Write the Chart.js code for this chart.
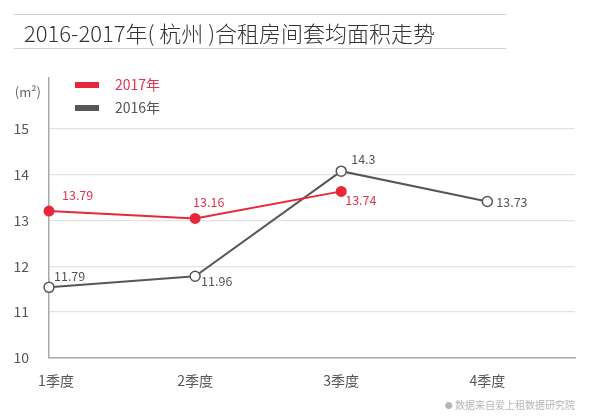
<!DOCTYPE html>
<html>
<head>
<meta charset="utf-8">
<script src="https://cdn.jsdelivr.net/npm/chart.js@4/dist/chart.umd.min.js"></script>
<style>
  html, body { margin: 0; padding: 0; background: #fff; }
  #wrap { position: relative; width: 600px; height: 416px; overflow: hidden; }
  #head {
    position: absolute; left: 14px; top: 14px; width: 492px; height: 35px;
    border-top: 1px solid #d0d0d0; border-bottom: 1px solid #d0d0d0;
    font-family: "Noto Sans CJK SC", "Noto Sans", sans-serif; font-size: 22px;
    font-weight: 300; color: #333; line-height: 35px; padding-left: 10px;
    box-sizing: border-box; white-space: pre;
  }
  #foot {
    position: absolute; right: 25px; top: 397px;
    font-family: "Noto Sans CJK SC", sans-serif; font-size: 10px; color: #b5b5b5;
  }
  canvas { position: absolute; left: 0; top: 0; }
</style>
</head>
<body>
<div id="wrap">
  <canvas id="areaChart" width="600" height="416"></canvas>
  <div id="head">2016-2017年( 杭州 )合租房间套均面积走势</div>
  <div id="foot"><span style="font-size:8px">●</span> 数据来自爱上租数据研究院</div>
</div>
<script>
const quarters = ['1季度', '2季度', '3季度', '4季度'];
const yTicks = [10, 11, 12, 13, 14, 15];
const unitLabel = '(m²)';

// where the points sit on the original chart
const area2017 = [13.20, 13.04, 13.63];
const area2016 = [11.54, 11.78, 14.07, 13.41];
// numbers printed next to the points
const text2017 = ['13.79', '13.16', '13.74'];
const text2016 = ['11.79', '11.96', '14.3', '13.73'];

const red = '#e8283a';
const grey = '#575757';

const toXY = (vals) => vals.map((v, i) => ({ x: i, y: v }));

// label offsets from each point, per dataset
const labelOffsets = [
  [[13, -16], [-2, -16], [4, 9]],
  [[5, -11], [6, 5], [10, -12], [9, 1]]
];
const labelTexts = [text2017, text2016];

const pointLabels = {
  id: 'pointLabels',
  afterDatasetsDraw(chart) {
    const ctx = chart.ctx;
    ctx.save();
    ctx.font = '12.5px "Noto Sans CJK SC", sans-serif';
    ctx.textBaseline = 'middle';
    ctx.textAlign = 'left';
    chart.data.datasets.forEach((ds, di) => {
      const meta = chart.getDatasetMeta(di);
      meta.data.forEach((pt, i) => {
        const off = labelOffsets[di][i];
        ctx.fillStyle = di === 0 ? '#e4334b' : '#555';
        ctx.fillText(labelTexts[di][i], pt.x + off[0], pt.y + off[1]);
      });
    });
    ctx.restore();
  }
};

const sideLegend = {
  id: 'sideLegend',
  afterDraw(chart) {
    const ctx = chart.ctx;
    ctx.save();
    ctx.font = '14px "Noto Sans CJK SC", sans-serif';
    ctx.textBaseline = 'middle';
    ctx.textAlign = 'left';
    chart.data.datasets.forEach((ds, i) => {
      const y = 85 + i * 23;
      ctx.fillStyle = ds.borderColor;
      ctx.fillRect(75, y - 3, 24, 6);
      ctx.fillStyle = i === 0 ? '#e4334b' : '#555';
      ctx.fillText(ds.label, 115, y);
    });
    // unit next to the y axis
    ctx.font = '13px "Noto Sans CJK SC", sans-serif';
    ctx.textAlign = 'right';
    ctx.fillStyle = '#666';
    ctx.fillText(unitLabel, chart.chartArea.left - 8, 92);
    ctx.restore();
  }
};

const ctx = document.getElementById('areaChart');
new Chart(ctx, {
  type: 'line',
  data: {
    datasets: [{
      label: '2017年',
      data: toXY(area2017),
      borderColor: red,
      backgroundColor: red,
      borderWidth: 2,
      pointRadius: 4.5,
      pointBackgroundColor: red,
      pointBorderColor: red,
      clip: false,
      tension: 0
    }, {
      label: '2016年',
      data: toXY(area2016),
      borderColor: grey,
      backgroundColor: grey,
      borderWidth: 2,
      pointRadius: 5,
      pointBorderWidth: 1.5,
      pointBackgroundColor: '#fff',
      pointBorderColor: grey,
      clip: false,
      tension: 0
    }]
  },
  options: {
    responsive: false,
    animation: false,
    layout: { padding: { top: 78, right: 25, left: 0, bottom: 0 } },
    plugins: {
      legend: { display: false },
      tooltip: { enabled: false }
    },
    scales: {
      x: {
        type: 'linear',
        min: 0,
        max: 3.6,
        afterBuildTicks: (s) => { s.ticks = quarters.map((q, i) => ({ value: i })); },
        afterFit: (s) => { s.height = 58; },
        grid: { display: false, drawTicks: false },
        border: { color: '#a8a8a8', width: 1.5 },
        ticks: {
          padding: 14,
          color: '#555',
          font: { size: 14, family: '"Noto Sans CJK SC", sans-serif' },
          // first label sits a little right of the axis in the original
          callback: (v) => v === 0 ? '\u2002\u2002' + quarters[0] : (quarters[v] ?? '')
        }
      },
      y: {
        min: 10,
        max: 16.1,
        afterBuildTicks: (s) => { s.ticks = yTicks.map(v => ({ value: v })); },
        afterFit: (s) => { s.width = 49; },
        grid: {
          drawTicks: false,
          color: (c) => (c.tick && c.tick.value > 10) ? '#e2e2e2' : 'rgba(0,0,0,0)',
          lineWidth: 1.2
        },
        border: { color: '#a8a8a8', width: 1.5 },
        ticks: {
          padding: 20,
          color: '#555',
          font: { size: 14, family: '"Noto Sans CJK SC", sans-serif' }
        }
      }
    }
  },
  plugins: [pointLabels, sideLegend]
});
</script>
</body>
</html>
